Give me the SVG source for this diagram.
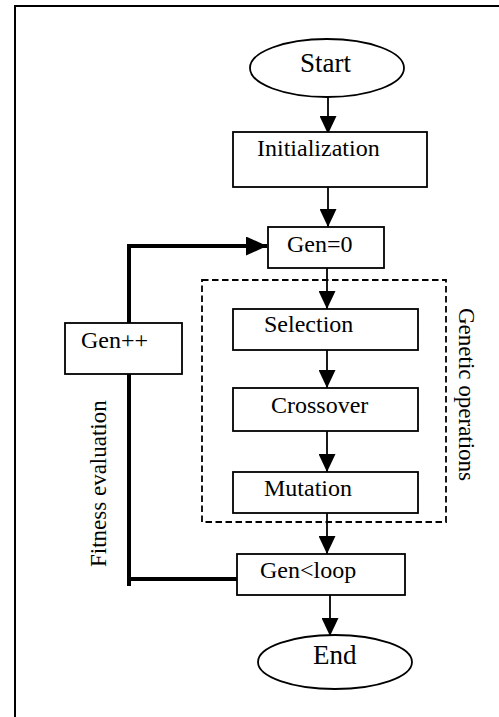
<svg xmlns="http://www.w3.org/2000/svg" width="499" height="717" viewBox="0 0 499 717">
<style>
.box{fill:#fff;stroke:#000;stroke-width:1.8}
.t{font-family:"Liberation Serif","Times New Roman",serif;font-size:24px;fill:#000}
.big{font-size:27px}
.side{font-size:23px}
.c{fill:none;stroke:#000;stroke-width:1.8}
.thick{fill:none;stroke:#000;stroke-width:4}
</style>
<defs>
<marker id="ah" markerUnits="userSpaceOnUse" markerWidth="18" markerHeight="17" refX="18" refY="8.5" orient="auto">
<path d="M0,0 L18,8.5 L0,17 Z" fill="#000"/>
</marker>
<marker id="ahb" markerUnits="userSpaceOnUse" markerWidth="21" markerHeight="19" refX="21" refY="9.5" orient="auto">
<path d="M0,0 L21,9.5 L0,19 Z" fill="#000"/>
</marker>
</defs>
<rect width="499" height="717" fill="#fff"/>
<g id="frame">
<path d="M15,717 L15,6 L499,6" fill="none" stroke="#000" stroke-width="2"/>
</g>
<g id="genetic-operations">
<rect x="202" y="280" width="244" height="242" fill="none" stroke="#000" stroke-width="1.8" stroke-dasharray="6.5,3.5"/>
<text class="t side" transform="translate(459,308) rotate(90)">Genetic operations</text>
</g>
<g id="fitness-label">
<text class="t side" transform="translate(106,567) rotate(-90)">Fitness evaluation</text>
</g>
<g id="connectors">
<path class="c" d="M328,97 L328,134" marker-end="url(#ah)"/>
<path class="c" d="M328,187 L328,227" marker-end="url(#ah)"/>
<path class="c" d="M327,268 L327,309" marker-end="url(#ah)"/>
<path class="c" d="M327,350 L327,388" marker-end="url(#ah)"/>
<path class="c" d="M327,431 L327,472" marker-end="url(#ah)"/>
<path class="c" d="M327,513 L327,554" marker-end="url(#ah)"/>
<path class="c" d="M330,595 L330,636" marker-end="url(#ah)"/>
<path class="thick" d="M129,374 L129,586"/>
<path class="thick" d="M237,579 L127,579"/>
<path class="thick" d="M129,326 L129,246 L267,246" marker-end="url(#ahb)"/>
</g>
<g id="start">
<ellipse class="box" cx="327" cy="68" rx="77" ry="29"/>
<text class="t big" x="300" y="72">Start</text>
</g>
<g id="initialization">
<rect class="box" x="233" y="132" width="194" height="55"/>
<text class="t" x="257" y="156">Initialization</text>
</g>
<g id="gen0">
<rect class="box" x="268" y="227" width="116" height="41"/>
<text class="t" x="287" y="252">Gen=0</text>
</g>
<g id="genpp">
<rect class="box" x="65" y="323" width="117" height="51"/>
<text class="t" x="81" y="348">Gen++</text>
</g>
<g id="selection">
<rect class="box" x="233" y="309" width="185" height="41"/>
<text class="t" x="264" y="332">Selection</text>
</g>
<g id="crossover">
<rect class="box" x="233" y="388" width="185" height="43"/>
<text class="t" x="271" y="413">Crossover</text>
</g>
<g id="mutation">
<rect class="box" x="233" y="472" width="185" height="41"/>
<text class="t" x="264" y="496">Mutation</text>
</g>
<g id="genloop">
<rect class="box" x="237" y="554" width="168" height="41"/>
<text class="t" x="260" y="578">Gen&lt;loop</text>
</g>
<g id="end">
<ellipse class="box" cx="335" cy="662" rx="77" ry="27"/>
<text class="t big" x="313" y="664">End</text>
</g>
</svg>
